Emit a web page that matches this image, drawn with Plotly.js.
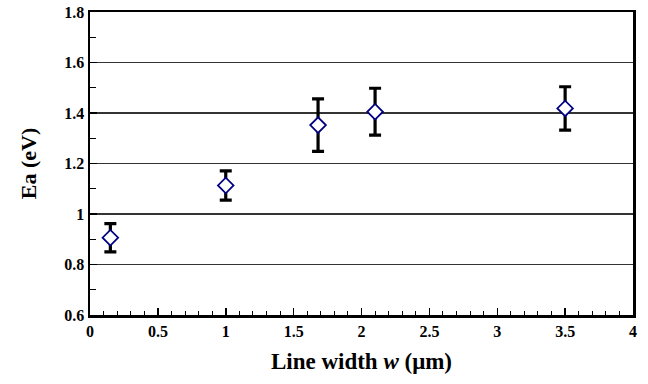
<!DOCTYPE html>
<html>
<head>
<meta charset="utf-8">
<script src="https://cdn.plot.ly/plotly-3.0.1.min.js"></script>
<style>html,body{margin:0;padding:0;background:#fff;}#chart{width:648px;height:384px;}</style>
</head>
<body>
<div id="chart"></div>
<script>
var lineWidth = [0.15, 1.0, 1.68, 2.1, 3.5];
var activationEnergy = [0.906, 1.113, 1.352, 1.405, 1.418];
var errorEa = [0.056, 0.058, 0.104, 0.093, 0.086];
var xTickVals = [0, 0.5, 1, 1.5, 2, 2.5, 3, 3.5, 4];
var xTickText = ['0', '0.5', '1', '1.5', '2', '2.5', '3', '3.5', '4'];
var yTickVals = [0.6, 0.8, 1.0, 1.2, 1.4, 1.6, 1.8];
var yTickText = ['0.6', '0.8', '1', '1.2', '1.4', '1.6', '1.8'];

var font = 'Liberation Serif';

var trace = {
  x: lineWidth,
  y: activationEnergy,
  type: 'scatter',
  mode: 'markers',
  marker: {symbol: 'diamond', size: 12, color: '#fff', line: {width: 1.8, color: '#000080'}},
  error_y: {type: 'data', array: errorEa, visible: true, color: '#000', thickness: 3.2, width: 6},
  hoverinfo: 'x+y'
};

var layout = {
  width: 648, height: 384,
  margin: {l: 90, r: 15, t: 12, b: 69},
  paper_bgcolor: '#fff', plot_bgcolor: '#fff',
  showlegend: false,
  font: {family: font, color: '#000', size: 16, weight: 'bold'},
  xaxis: {
    range: [0, 4], tickvals: xTickVals, ticktext: xTickText,
    ticks: 'inside', ticklen: 7, tickwidth: 1.5, tickcolor: '#000',
    minor: {dtick: 0.1, tick0: 0, ticks: 'inside', ticklen: 4, tickwidth: 1, tickcolor: '#000', showgrid: false},
    showgrid: false, zeroline: false,
    showline: true, linewidth: 2.5, linecolor: '#000', mirror: true,
    tickfont: {family: font, size: 16, color: '#000', weight: 'bold'},
    title: {text: 'Line width <i>w</i> (μm)', font: {family: font, size: 23, color: '#000', weight: 'bold'}, standoff: 14}
  },
  yaxis: {
    range: [0.6, 1.8], tickvals: yTickVals, ticktext: yTickText,
    ticks: 'inside', ticklen: 7, tickwidth: 1.5, tickcolor: '#000',
    minor: {dtick: 0.1, tick0: 0.6, ticks: 'inside', ticklen: 6, tickwidth: 1, tickcolor: '#000', showgrid: false},
    showgrid: true, gridcolor: '#333', gridwidth: 1.5,
    zeroline: false,
    showline: true, linewidth: 2.5, linecolor: '#000', mirror: true,
    tickfont: {family: font, size: 16, color: '#000', weight: 'bold'},
    title: {text: 'Ea (eV)', font: {family: font, size: 22, color: '#000', weight: 'bold'}, standoff: 22}
  }
};

Plotly.newPlot('chart', [trace], layout, {displayModeBar: false, staticPlot: true});
</script>
</body>
</html>
